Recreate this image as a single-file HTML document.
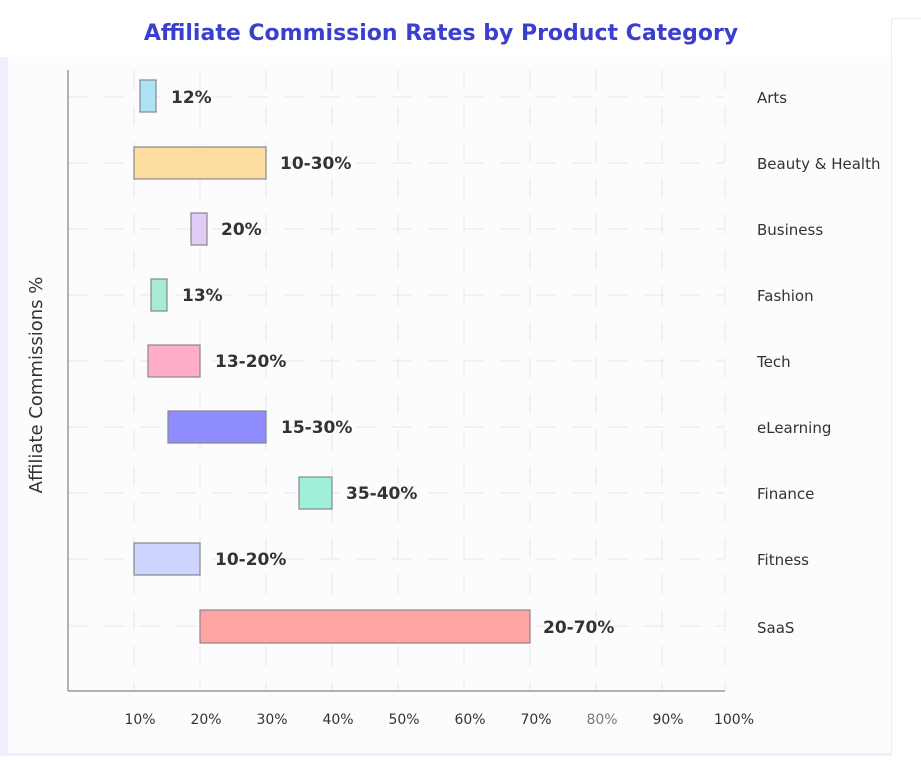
<!DOCTYPE html>
<html><head><meta charset="utf-8"><style>
body{margin:0;width:921px;height:756px;background:#fff;overflow:hidden;font-family:"DejaVu Sans","Liberation Sans",sans-serif}
</style></head><body>
<svg width="921" height="756" xmlns="http://www.w3.org/2000/svg">
<rect x="0" y="57" width="891" height="699" fill="#f3eefe"/>
<rect x="8" y="57" width="883" height="696" fill="#fcfcfe"/>
<rect x="891.5" y="18.5" width="40" height="740" fill="#fff" stroke="#ececf6"/>
<text x="441" y="40" text-anchor="middle" font-family="DejaVu Sans,Liberation Sans,sans-serif" font-weight="bold" font-size="22" fill="#3a3fd0">Affiliate Commission Rates by Product Category</text>
<g stroke="#ebebee" stroke-width="1.2" stroke-dasharray="20,16">
<line x1="134" y1="70" x2="134" y2="690"/><line x1="200" y1="70" x2="200" y2="690"/><line x1="266" y1="70" x2="266" y2="690"/><line x1="332" y1="70" x2="332" y2="690"/><line x1="398" y1="70" x2="398" y2="690"/><line x1="464" y1="70" x2="464" y2="690"/><line x1="530" y1="70" x2="530" y2="690"/><line x1="596" y1="70" x2="596" y2="690"/><line x1="662" y1="70" x2="662" y2="690"/><line x1="725" y1="70" x2="725" y2="690"/>
<line x1="68" y1="97" x2="725" y2="97"/><line x1="68" y1="163" x2="725" y2="163"/><line x1="68" y1="229" x2="725" y2="229"/><line x1="68" y1="295" x2="725" y2="295"/><line x1="68" y1="361" x2="725" y2="361"/><line x1="68" y1="427" x2="725" y2="427"/><line x1="68" y1="493" x2="725" y2="493"/><line x1="68" y1="559" x2="725" y2="559"/><line x1="68" y1="626" x2="725" y2="626"/>
</g>
<line x1="68" y1="70" x2="68" y2="691" stroke="#999" stroke-width="1.5"/>
<line x1="68" y1="691" x2="725" y2="691" stroke="#999" stroke-width="1.5"/>
<g stroke="#888" stroke-width="1.2">
<rect x="140" y="80" width="16" height="32" fill="#aee3f5"/>
<rect x="134" y="147" width="132" height="32" fill="#fddca0"/>
<rect x="191" y="213" width="16" height="32" fill="#e2cbf7"/>
<rect x="151" y="279" width="16" height="32" fill="#a6ecd2"/>
<rect x="148" y="345" width="52" height="32" fill="#ffadc8"/>
<rect x="168" y="411" width="98" height="32" fill="#8f8cff"/>
<rect x="299" y="477" width="33" height="32" fill="#9ef0d8"/>
<rect x="134" y="543" width="66" height="32" fill="#cdd4fe"/>
<rect x="200" y="610" width="330" height="33" fill="#ffa3a3"/>
</g>
<g font-weight="bold" font-size="17" fill="#333">
<text x="171" y="103">12%</text><text x="280" y="169">10-30%</text><text x="221" y="235">20%</text><text x="182" y="301">13%</text><text x="215" y="367">13-20%</text><text x="281" y="433">15-30%</text><text x="346" y="499">35-40%</text><text x="215" y="565">10-20%</text><text x="543" y="633">20-70%</text>
</g>
<g font-size="15" fill="#333">
<text x="757" y="103">Arts</text><text x="757" y="169">Beauty &amp; Health</text><text x="757" y="235">Business</text><text x="757" y="301">Fashion</text><text x="757" y="367">Tech</text><text x="757" y="433">eLearning</text><text x="757" y="499">Finance</text><text x="757" y="565">Fitness</text><text x="757" y="633">SaaS</text>
</g>
<g font-size="14" fill="#333" text-anchor="middle">
<text x="140" y="724">10%</text><text x="206" y="724">20%</text><text x="272" y="724">30%</text><text x="338" y="724">40%</text><text x="404" y="724">50%</text><text x="470" y="724">60%</text><text x="536" y="724">70%</text><text x="602" y="724" fill="#777">80%</text><text x="668" y="724">90%</text><text x="734" y="724">100%</text>
</g>
<text transform="translate(42,385) rotate(-90)" text-anchor="middle" font-size="18" fill="#333">Affiliate Commissions %</text>
</svg>
</body></html>
